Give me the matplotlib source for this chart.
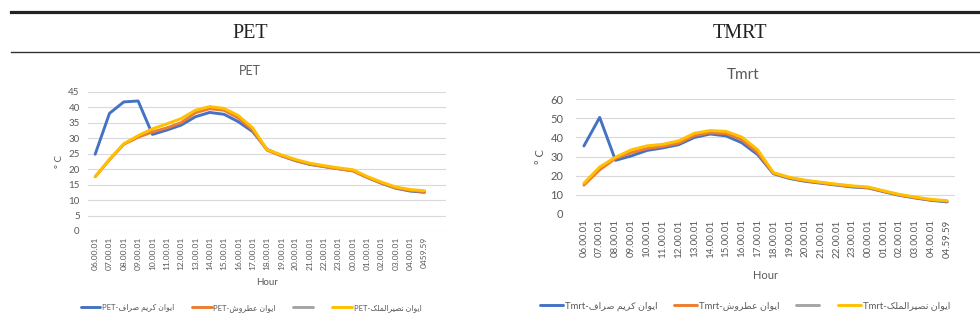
import matplotlib
matplotlib.use("Agg")
import matplotlib.pyplot as plt

# ---- data -------------------------------------------------------------
hours_pet = ["06.00.01", "07.00.01", "08.00.01", "09.00.01", "10.00.01", "11.00.01",
             "12.00.01", "13.00.01", "14.00.01", "15.00.01", "16.00.01", "17.00.01",
             "18.00.01", "19.00.01", "20.00.01", "21.00.01", "22.00.01", "23.00.01",
             "00.00.01", "01.00.01", "02.00.01", "03.00.01", "04.00.01", "0459.59"]
hours_tmrt = ["06.00.01", "07.00.01", "08.00.01", "09.00.01", "10.00.01", "11.00.01",
              "12.00.01", "13.00.01", "14.00.01", "15.00.01", "16.00.01", "17.00.01",
              "18.00.01", "19.00.01", "20.00.01", "21.00.01", "22.00.01", "23.00.01",
              "00.00.01", "01.00.01", "02.00.01", "03.00.01", "04.00.01", "04.59.59"]

site_names = ["ایوان کریم صراف", "ایوان عطروش", "", "ایوان نصیرالملک"]

pet_karim = [24.8, 38.0, 41.7, 42.0, 31.2, 32.6, 34.2, 36.9, 38.3, 37.7, 35.3, 32.1,
             26.4, 24.3, 22.7, 21.5, 20.8, 20.1, 19.5, 17.3, 15.4, 13.8, 12.9, 12.5]
pet_atrush = [17.5, 23.0, 28.0, 30.3, 32.0, 33.3, 35.0, 38.2, 39.5, 39.0, 36.5, 32.6,
              26.1, 24.3, 22.8, 21.6, 20.8, 20.1, 19.4, 17.3, 15.5, 13.9, 13.1, 12.7]
pet_gray = []
pet_nasir = [17.6, 23.2, 28.2, 30.8, 33.0, 34.6, 36.3, 39.0, 40.2, 39.6, 37.3, 33.3,
             26.3, 24.6, 23.1, 21.9, 21.1, 20.4, 19.8, 17.6, 15.8, 14.2, 13.4, 13.0]

tmrt_karim = [35.5, 50.5, 28.0, 30.3, 33.2, 34.5, 36.2, 40.0, 41.8, 40.8, 37.2, 31.0,
              21.0, 18.5, 17.0, 16.0, 15.0, 14.0, 13.5, 11.5, 9.6, 8.2, 7.0, 6.2]
tmrt_atrush = [15.0, 23.0, 29.0, 32.0, 34.2, 35.3, 37.0, 41.0, 42.5, 42.0, 38.8, 32.0,
               21.2, 18.8, 17.3, 16.2, 15.2, 14.3, 13.7, 11.7, 9.8, 8.4, 7.2, 6.5]
tmrt_gray = []
tmrt_nasir = [16.0, 24.5, 29.6, 33.5, 35.6, 36.4, 38.2, 42.2, 43.6, 43.2, 40.2, 33.6,
              21.6, 19.1, 17.6, 16.5, 15.5, 14.6, 14.0, 12.0, 10.1, 8.7, 7.5, 6.8]

pet_yticks = [0, 5, 10, 15, 20, 25, 30, 35, 40, 45]
tmrt_yticks = [0, 10, 20, 30, 40, 50, 60]

# ---- simple Persian shaping (contextual forms + right-to-left order) ----
FORMS = {  # isolated, final, initial, medial
    'ا': ('\uFE8D', '\uFE8E', None, None),
    'و': ('\uFEED', '\uFEEE', None, None),
    'ر': ('\uFEAD', '\uFEAE', None, None),
    'ی': ('\uFBFC', '\uFBFD', '\uFBFE', '\uFBFF'),
    'ن': ('\uFEE5', '\uFEE6', '\uFEE7', '\uFEE8'),
    'ک': ('\uFB8E', '\uFB8F', '\uFB90', '\uFB91'),
    'م': ('\uFEE1', '\uFEE2', '\uFEE3', '\uFEE4'),
    'ص': ('\uFEB9', '\uFEBA', '\uFEBB', '\uFEBC'),
    'ف': ('\uFED1', '\uFED2', '\uFED3', '\uFED4'),
    'ع': ('\uFEC9', '\uFECA', '\uFECB', '\uFECC'),
    'ط': ('\uFEC1', '\uFEC2', '\uFEC3', '\uFEC4'),
    'ش': ('\uFEB5', '\uFEB6', '\uFEB7', '\uFEB8'),
    'ل': ('\uFEDD', '\uFEDE', '\uFEDF', '\uFEE0'),
}


def shape_word(word):
    out = []
    for i, ch in enumerate(word):
        iso, fin, ini, med = FORMS[ch]
        prev = word[i - 1] if i > 0 else None
        nxt = word[i + 1] if i + 1 < len(word) else None
        join_prev = prev is not None and FORMS[prev][2] is not None
        join_next = nxt is not None and ini is not None
        if join_prev and join_next:
            out.append(med)
        elif join_prev:
            out.append(fin)
        elif join_next:
            out.append(ini)
        else:
            out.append(iso)
    return ''.join(reversed(out))


def rtl(text):
    return ' '.join(shape_word(w) for w in reversed(text.split()))


def series_label(metric, name):
    if not name:
        return ''
    return f"{metric}-" + rtl(name)


# ---- figure -----------------------------------------------------------
W, H = 980, 328
fig = plt.figure(figsize=(W / 100, H / 100), dpi=100)
fig.patch.set_facecolor("white")

TXT = "#595959"
GRID = "#d9d9d9"
COLORS = ["#4472C4", "#ED7D31", "#A5A5A5", "#FFC000"]
FONT = ["Lato", "DejaVu Sans"]


def fx(px):
    return px / W


def fy(py):
    return 1 - py / H


# table rules and header row
fig.add_artist(plt.Line2D([fx(11), 1], [fy(12), fy(12)], color="#222222", lw=2.3,
                          transform=fig.transFigure))
fig.add_artist(plt.Line2D([fx(11), 1], [fy(52), fy(52)], color="#333333", lw=1.0,
                          transform=fig.transFigure))
fig.text(fx(250), fy(33), "PET", ha="center", va="center", fontsize=14.5,
         family="Liberation Serif", color="#222222")
fig.text(fx(740), fy(33), "TMRT", ha="center", va="center", fontsize=14.5,
         family="Liberation Serif", color="#222222")


def draw_chart(rect, title, title_xy, hours, series, names, metric, yticks, ylim,
               nslots, ylabel_x, legend_xy, sizes, ypad, xlabelpad, leg_spacing,
               handle_len):
    left, top, right, bottom = rect
    ax = fig.add_axes([fx(left), fy(bottom), fx(right) - fx(left), (bottom - top) / H])
    x = list(range(len(hours)))
    handles = []
    for vals, color in zip(series, COLORS):
        (ln,) = ax.plot(x[:len(vals)], vals, color=color, lw=2.1,
                        solid_joinstyle="round", solid_capstyle="round")
        handles.append(ln)
    ax.set_xlim(-0.5, nslots - 0.5)
    ax.set_ylim(*ylim)
    ax.set_yticks(yticks)
    ax.set_xticks(x)
    ax.set_xticklabels(hours, rotation=90, fontsize=sizes["xtick"], color=TXT,
                       family=FONT)
    for lab in ax.get_yticklabels():
        lab.set_fontsize(sizes["ytick"])
        lab.set_color(TXT)
        lab.set_family(FONT)
    ax.tick_params(axis="x", length=0, pad=4)
    ax.tick_params(axis="y", length=0, pad=ypad)
    ax.grid(axis="y", color=GRID, lw=0.8)
    ax.set_axisbelow(True)
    for s in ax.spines.values():
        s.set_visible(False)
    ax.set_xlabel("Hour", fontsize=sizes["label"], color=TXT, family=FONT,
                  labelpad=xlabelpad)
    fig.text(fx(ylabel_x), (fy(top) + fy(bottom)) / 2, "° C", rotation=90,
             ha="center", va="center", fontsize=sizes["label"], color=TXT, family=FONT)
    fig.text(fx(title_xy[0]), fy(title_xy[1]), title, ha="center", va="center",
             fontsize=sizes["title"], color=TXT, family=FONT)
    labels = [series_label(metric, n) for n in names]
    leg = ax.legend(handles, labels, loc="center",
                    bbox_to_anchor=(fx(legend_xy[0]), fy(legend_xy[1])),
                    bbox_transform=fig.transFigure, ncol=4, frameon=False,
                    handlelength=handle_len, handletextpad=0.2,
                    columnspacing=leg_spacing,
                    prop={"family": FONT, "size": sizes["legend"]})
    for t in leg.get_texts():
        t.set_color(TXT)
    return ax


draw_chart((88, 91.7, 446, 231), "PET", (250, 71), hours_pet,
           [pet_karim, pet_atrush, pet_gray, pet_nasir], site_names, "PET",
           pet_yticks, (0, 45), 25, 59, (251, 308),
           {"xtick": 6, "ytick": 7, "label": 7, "title": 9, "legend": 5.5},
           ypad=6, xlabelpad=6, leg_spacing=2.3, handle_len=2.6)

draw_chart((576, 99.3, 955, 213.7), "Tmrt", (743, 75), hours_tmrt,
           [tmrt_karim, tmrt_atrush, tmrt_gray, tmrt_nasir], site_names, "Tmrt",
           tmrt_yticks, (0, 60), 24, 540, (745, 306),
           {"xtick": 7, "ytick": 8, "label": 8, "title": 11, "legend": 6.8},
           ypad=9, xlabelpad=9, leg_spacing=1.8, handle_len=2.4)

fig.savefig("out.png", dpi=100, facecolor="white")
